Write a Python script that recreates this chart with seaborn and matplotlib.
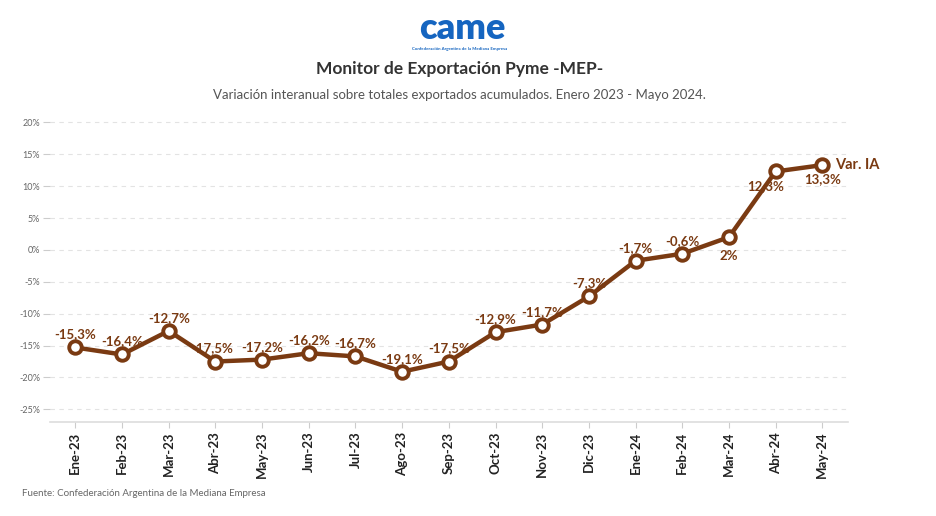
import matplotlib
matplotlib.use("Agg")
import matplotlib.pyplot as plt
import seaborn as sns
import pandas as pd

months = ["Ene-23", "Feb-23", "Mar-23", "Abr-23", "May-23", "Jun-23", "Jul-23", "Ago-23",
          "Sep-23", "Oct-23", "Nov-23", "Dic-23", "Ene-24", "Feb-24", "Mar-24", "Abr-24", "May-24"]
var_ia = [-15.3, -16.4, -12.7, -17.5, -17.2, -16.2, -16.7, -19.1, -17.5, -12.9, -11.7, -7.3,
          -1.7, -0.6, 2.0, 12.3, 13.3]
y_ticks = [20, 15, 10, 5, 0, -5, -10, -15, -20, -25]

df = pd.DataFrame({"mes": months, "var": var_ia, "idx": range(len(months))})

sns.set_theme(style="white")
plt.rcParams["font.family"] = ["Lato", "DejaVu Sans"]

brown = "#7a3a12"
fig = plt.figure(figsize=(9.37, 5.16), dpi=100)
ax = fig.add_axes([0.053, 0.182, 0.852, 0.587])

sns.lineplot(data=df, x="idx", y="var", ax=ax, color=brown, linewidth=3.2,
             marker="o", markersize=9, markerfacecolor="white",
             markeredgecolor=brown, markeredgewidth=2.8, zorder=5)

for i, v in enumerate(var_ia):
    txt = (f"{v:.1f}".replace(".", ",") if v != int(v) else f"{int(v)}") + "%"
    if i in (14,):
        ax.annotate(txt, (i, v), xytext=(0, -9), textcoords="offset points",
                    ha="center", va="top", fontsize=9.5, fontweight="bold", color=brown)
    elif i in (15, 16):
        dx = -7 if i == 15 else 0
        ax.annotate(txt, (i, v), xytext=(dx, -6), textcoords="offset points",
                    ha="center", va="top", fontsize=9.5, fontweight="bold", color=brown)
    else:
        dx = -2 if i == 3 else 0
        ax.annotate(txt, (i, v), xytext=(dx, 5), textcoords="offset points",
                    ha="center", va="bottom", fontsize=9.5, fontweight="bold", color=brown)

ax.annotate("Var. IA", (16, 13.3), xytext=(9, 0), textcoords="offset points",
            ha="left", va="center", fontsize=10.5, fontweight="bold", color=brown)

ax.set_xlim(-0.55, 16.55)
ax.set_ylim(-27, 20.5)
ax.set_yticks(y_ticks)
ax.set_yticklabels([f"{t}%" for t in y_ticks], fontsize=6.5, color="#666666")
ax.set_xticks(range(len(months)))
ax.set_xticklabels(months, rotation=90, fontsize=9.5, fontweight="bold", color="#222222")
ax.set_xlabel("")
ax.set_ylabel("")
ax.yaxis.grid(True, linestyle=(0, (4, 4)), color="#e3e3e3", linewidth=0.8)
ax.xaxis.grid(False)
for s in ["top", "right", "left"]:
    ax.spines[s].set_visible(False)
ax.spines["bottom"].set_color("#dddddd")
ax.spines["bottom"].set_linewidth(1.2)
ax.tick_params(axis="y", left=True, length=5, color="#cccccc", width=0.8, pad=2)
ax.tick_params(axis="x", bottom=True, length=4, color="#cccccc", width=0.8, pad=3)

# header
fig.text(0.493, 0.944, "came", ha="center", va="center", fontsize=26, fontweight="heavy",
         color="#1565c0", family=["Lato", "DejaVu Sans"])
fig.text(0.491, 0.905, "Confederación Argentina de la Mediana Empresa", ha="center",
         va="center", fontsize=3.2, fontweight="bold", color="#1565c0")
fig.text(0.49, 0.866, "Monitor de Exportación Pyme -MEP-", ha="center", va="center",
         fontsize=12.5, fontweight="bold", color="#333333")
fig.text(0.49, 0.815, "Variación interanual sobre totales exportados acumulados. Enero 2023 - Mayo 2024.",
         ha="center", va="center", fontsize=9.5, color="#555555")
fig.text(0.024, 0.043, "Fuente: Confederación Argentina de la Mediana Empresa", ha="left",
         va="center", fontsize=7, color="#666666")

fig.savefig("out.png", dpi=100, facecolor="white")
